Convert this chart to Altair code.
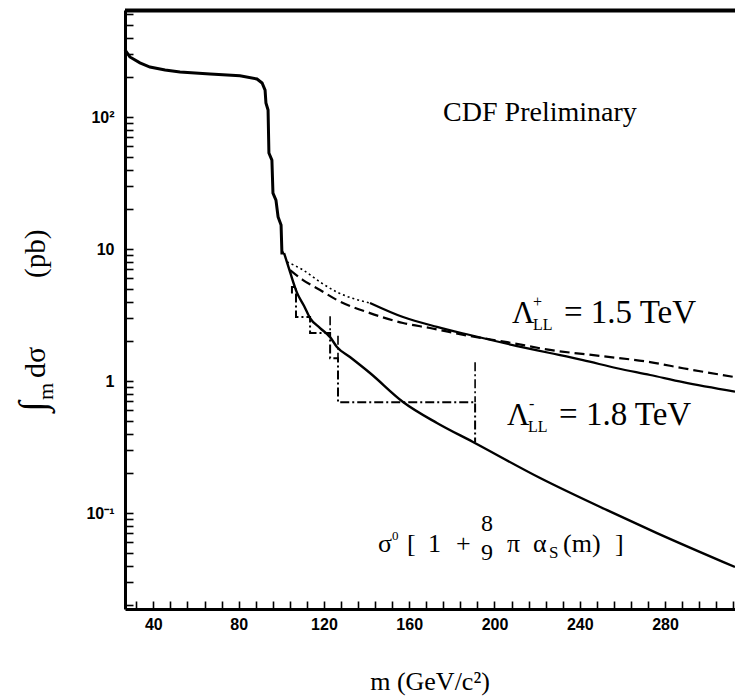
import altair as alt
import pandas as pd

# ---------------- data ----------------
# measured integrated cross section (solid, thick)
data_m = [26.7, 29.0, 33.7, 38.4, 45.5, 52.5, 66.6, 80.6, 88.6, 91.0, 92.4, 92.8,
          93.8, 94.2, 95.6, 96.1, 97.5, 98.5, 99.9, 100.3, 101.3]
data_v = [322, 285, 257, 239, 227, 219, 212, 205, 194, 181, 160, 128,
          113, 53.4, 47.2, 26.5, 23.5, 17.5, 15.2, 9.33, 9.33]

# Standard-model prediction sigma0 [1 + 8/9 pi alpha_s(m)] (solid)
sm_m = [101.3, 104.1, 107.4, 110.7, 113.5, 118.2, 122.9, 126.1, 132.2, 141.6,
        157.1, 173.0, 189.9, 221.4, 252.8, 276.2, 312.8]
sm_v = [9.33, 6.70, 4.65, 3.70, 3.00, 2.52, 2.15, 1.81, 1.52, 1.15,
        0.694, 0.481, 0.345, 0.184, 0.105, 0.0705, 0.039]

# contact-interaction curve A (dotted at first, solid later; ends lower)
laA_m = [102.7, 110.2, 118.2, 126.1, 141.6, 157.1, 173.0, 188.5, 210.6, 226.0,
         241.5, 257.5, 273.0, 288.4, 312.8]
laA_v = [7.98, 6.93, 5.62, 4.72, 3.90, 3.05, 2.57, 2.23, 1.84, 1.63,
         1.44, 1.25, 1.11, 0.98, 0.83]
laA_split = 141.6

# contact-interaction curve B (dashed; ends upper)
laB_m = [104.1, 110.2, 118.2, 126.1, 141.6, 157.1, 169.8, 188.5, 205.9, 226.0,
         249.5, 273.0, 288.4, 312.8]
laB_v = [6.93, 5.82, 4.89, 4.11, 3.27, 2.75, 2.52, 2.19, 1.97, 1.72,
         1.55, 1.39, 1.25, 1.07]

# dash-dot step (binned data)
step_m = [105.0, 105.0, 106.9, 106.9, 113.5, 113.5, 122.9, 122.9, 126.6, 126.6, 190.9, 190.9]
step_v = [4.6, 5.15, 5.15, 3.05, 3.05, 2.31, 2.31, 1.49, 1.49, 0.69, 0.69, 0.345]
# upward extensions of the step edges
err_m = [122.9, 126.6, 190.9]
err_hi = [3.1, 2.2, 1.39]
err_lo = [2.31, 1.49, 0.69]

# axes
x_major = [40, 80, 120, 160, 200, 240, 280]
x_minor = [32, 48, 56, 64, 72, 88, 96, 104, 112, 128, 136, 144, 152, 168, 176, 184, 192,
           208, 216, 224, 232, 248, 256, 264, 272, 288, 296, 304, 312]
y_major = [0.1, 1, 10, 100]
y_minor = [0.02, 0.03, 0.04, 0.05, 0.06, 0.07, 0.08, 0.09,
           0.2, 0.3, 0.4, 0.5, 0.6, 0.7, 0.8, 0.9,
           2, 3, 4, 5, 6, 7, 8, 9,
           20, 30, 40, 50, 60, 70, 80, 90,
           200, 300, 400, 500, 600]
X_DOMAIN = [26.7, 312.8]
Y_DOMAIN = [0.01874, 646.7]

# ---------------- chart ----------------
W, H = 610, 599
SERIF = "Liberation Serif"
xs = alt.Scale(domain=X_DOMAIN, nice=False, zero=False)
ys = alt.Scale(type="log", domain=Y_DOMAIN, nice=False)

x_major_js = "[" + ",".join(str(v) for v in x_major) + "]"

# ticks pointing into the plot: a negative tick length given as an expression
xaxis = alt.Axis(values=sorted(x_major + x_minor), ticks=True, tickSize=alt.ExprRef(expr="-8"),
                 tickWidth=1.6, tickColor="black", grid=False, title=None, orient="bottom",
                 domainColor="black", domainWidth=3, labelColor="black",
                 labelFont="Liberation Sans", labelFontWeight="bold", labelFontSize=16,
                 labelPadding=15, labelFlush=False,
                 labelExpr="indexof(" + x_major_js + ", datum.value) >= 0 ? datum.label : ''")
yaxis = alt.Axis(values=sorted(y_major + y_minor), ticks=True, tickSize=alt.ExprRef(expr="-8"),
                 tickWidth=1.6, tickColor="black", grid=False, title=None, orient="left",
                 domainColor="black", domainWidth=3, labelColor="black",
                 labelFont="Liberation Sans", labelFontWeight="bold", labelFontSize=16,
                 labelPadding=19, labelFlush=False,
                 labelExpr="datum.value == 100 ? '10²' : datum.value == 10 ? '10' : datum.value == 1 ? '1' : datum.value == 0.1 ? '10⁻¹' : ''")


def df_line(ms, vs):
    return pd.DataFrame({"m": ms, "v": vs, "i": list(range(len(ms)))})


def X(axis=None):
    return alt.X("m:Q", scale=xs, axis=axis)


def Y(axis=None):
    return alt.Y("v:Q", scale=ys, axis=axis)


layers = []

# measured curve (carries the axes)
layers.append(alt.Chart(df_line(data_m, data_v)).mark_line(color="black", strokeWidth=3).encode(
    x=X(xaxis), y=Y(yaxis), order="i:Q"))

# SM curve
layers.append(alt.Chart(df_line(sm_m, sm_v)).mark_line(color="black", strokeWidth=2.4, interpolate="monotone").encode(
    x=X(), y=Y(), order="i:Q"))

# curve A: dotted part and solid part
a1 = [(m, v) for m, v in zip(laA_m, laA_v) if m <= laA_split]
a2 = [(m, v) for m, v in zip(laA_m, laA_v) if m >= laA_split]
layers.append(alt.Chart(df_line([p[0] for p in a1], [p[1] for p in a1])).mark_line(
    color="black", strokeWidth=1.6, strokeDash=[2, 3], interpolate="monotone").encode(x=X(), y=Y(), order="i:Q"))
layers.append(alt.Chart(df_line([p[0] for p in a2], [p[1] for p in a2])).mark_line(
    color="black", strokeWidth=2.2, interpolate="monotone").encode(x=X(), y=Y(), order="i:Q"))

# curve B dashed
layers.append(alt.Chart(df_line(laB_m, laB_v)).mark_line(
    color="black", strokeWidth=2.2, strokeDash=[10, 5], interpolate="monotone").encode(x=X(), y=Y(), order="i:Q"))

# dash-dot steps
layers.append(alt.Chart(df_line(step_m, step_v)).mark_line(
    color="black", strokeWidth=2, strokeDash=[9, 3, 2, 3]).encode(x=X(), y=Y(), order="i:Q"))
layers.append(alt.Chart(pd.DataFrame({"m": err_m, "v": err_hi, "v2": err_lo})).mark_rule(
    color="black", strokeWidth=1.6, strokeDash=[9, 3, 2, 3]).encode(x=X(), y=Y(), y2="v2:Q"))

# top frame line
layers.append(alt.Chart(pd.DataFrame({"k": [0]})).mark_rule(color="black", strokeWidth=4).encode(
    x=alt.value(0), x2=alt.value(W), y=alt.value(0.5)))


def text_at(m, v, parts):
    out = []
    d = pd.DataFrame({"m": [m], "v": [v]})
    for t, dx, dy, size in parts:
        out.append(alt.Chart(d).mark_text(text=t, dx=dx, dy=dy, fontSize=size, font=SERIF,
                                          align="left", baseline="alphabetic", color="black").encode(
            x=X(), y=Y()))
    return out


# CDF Preliminary
layers += text_at(175.9, 93.3, [("CDF Preliminary", 0, 0, 28)])

# Lambda labels
layers += text_at(208.2, 2.75, [("Λ", 0, 0, 31), ("+", 21, -16, 16), ("LL", 21, 7, 16), ("= 1.5 TeV", 52, 0, 33)])
layers += text_at(205.9, 0.464, [("Λ", 0, 0, 31), ("-", 22, -16, 16), ("LL", 21, 7, 16), ("= 1.8 TeV", 52, 0, 33)])

# formula
layers += text_at(145.4, 0.0507, [
    ("σ", 0, 0, 26), ("0", 14, -12, 13), ("[", 29, 0, 26), ("1", 50, 0, 26), ("+", 78, 0, 26),
    ("8", 103, -21, 24), ("9", 103, 8, 24), ("π", 129, 0, 26), ("α", 155, 0, 26),
    ("S", 171, 6, 17), ("(m)", 185, 0, 26), ("]", 237, 0, 26)])

# y-axis title (rotated)
ytitle = [("∫", -80, 402, 38), ("m", -72, 390, 22), ("dσ", -80, 368, 30), ("(pb)", -80, 268, 29)]
for t, px, py, size in ytitle:
    layers.append(alt.Chart(pd.DataFrame({"k": [0]})).mark_text(
        text=t, angle=270, align="left", baseline="alphabetic", fontSize=size, font=SERIF, color="black").encode(
        x=alt.value(px), y=alt.value(py)))

# x-axis title
layers.append(alt.Chart(pd.DataFrame({"k": [0]})).mark_text(
    text="m (GeV/c²)", align="center", baseline="alphabetic", fontSize=26, font=SERIF, color="black").encode(
    x=alt.value(305), y=alt.value(680)))

chart = alt.layer(*layers).resolve_axis(x="independent", y="independent").properties(
    width=W, height=H, autosize="none",
    padding={"left": 125, "top": 10, "right": 0, "bottom": 88},
    background="white",
).configure_view(stroke=None)

chart.save("out.html", embed_options={"renderer": "svg", "actions": False})
